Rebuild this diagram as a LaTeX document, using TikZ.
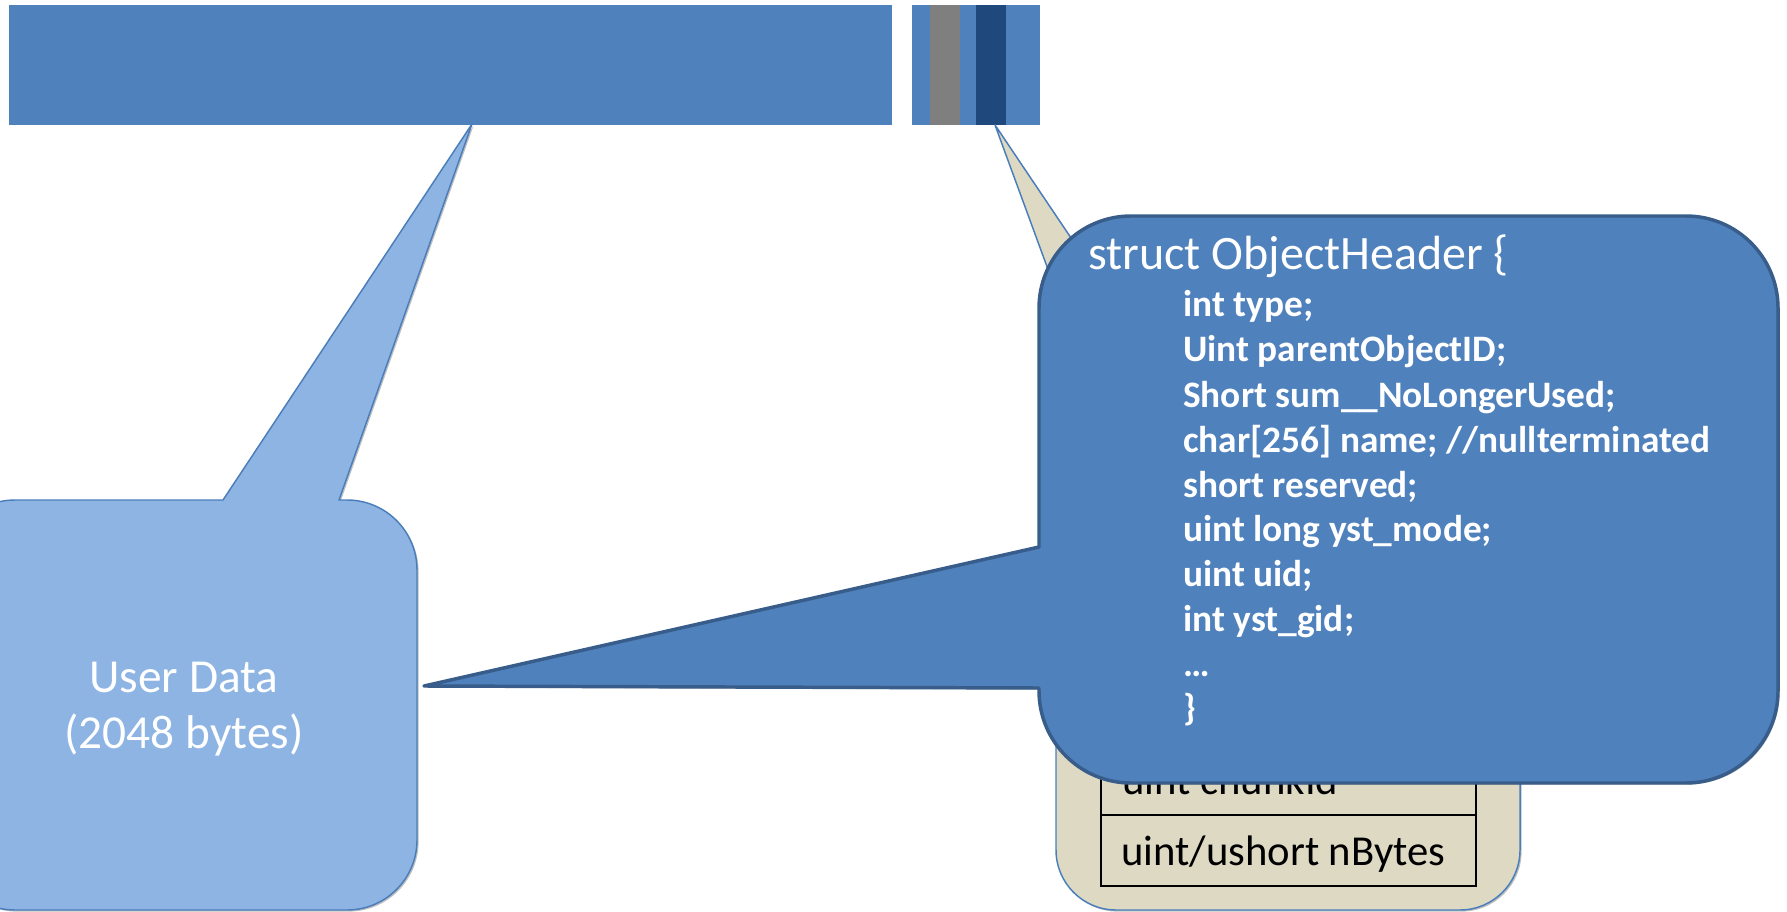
\documentclass[tikz,border=0pt]{standalone}
\usepackage{fontspec}
\setmainfont{Carlito}
\usetikzlibrary{shadows}
\definecolor{barblue}{HTML}{4F81BD}
\definecolor{bargray}{HTML}{7F7F7F}
\definecolor{bardark}{HTML}{1F497D}
\definecolor{udfill}{HTML}{8EB4E3}
\definecolor{udline}{HTML}{4A7EBB}
\definecolor{tanfill}{HTML}{DDD9C3}
\definecolor{hdrfill}{HTML}{4F81BD}
\definecolor{hdrline}{HTML}{385D8A}
\begin{document}
\begin{tikzpicture}[x=0.75pt,y=-0.75pt,
  softshadow/.style={drop shadow={opacity=0.25,fill=black,shadow xshift=1.2pt,shadow yshift=-1.2pt}},
  udshape/.style={fill=udfill,draw=udline,line width=1.1pt,line join=round,softshadow},
  tanshape/.style={fill=tanfill,draw=udline,line width=1.1pt,line join=round,softshadow},
  hdrshape/.style={fill=hdrfill,draw=hdrline,line width=2.6pt,line join=round,softshadow},
  udtext/.style={text=white,inner sep=0pt,anchor=base,font=\fontsize{35.5}{42}\selectfont},
  hdrtitle/.style={text=white,inner sep=0pt,anchor=base west,font=\fontsize{36}{43}\selectfont},
  hdrfield/.style={text=white,inner sep=0pt,anchor=base west,font=\bfseries\fontsize{28}{34}\selectfont},
  cellline/.style={draw=black,line width=1.5pt},
  celltext/.style={text=black,inner sep=0pt,anchor=base west,font=\fontsize{32}{38}\selectfont}]
\useasboundingbox (0,0) rectangle (1787,912);
\clip (0,0) rectangle (1787,912);

% memory layout bars
\fill[barblue] (9,5) rectangle (892,125);
\fill[barblue] (912,5) rectangle (1040,125);
\fill[bargray] (930,5) rectangle (960,125);
\fill[bardark] (976,5) rectangle (1006,125);
\coordinate (datatip) at (472,124);
\coordinate (hdrtip) at (995,125);

% user data callout
\path[udshape] (15,500) -- (223,500) -- (datatip) -- (339,500) -- (347,500)
  .. controls (385.7,500) and (417,531.3) .. (417,570) -- (417,840)
  .. controls (417,878.7) and (385.7,910) .. (347,910) -- (15,910)
  .. controls (-23.7,910) and (-55,878.7) .. (-55,840) -- (-55,570)
  .. controls (-55,531.3) and (-23.7,500) .. (15,500) -- cycle;
\node[udtext] (ud1) at (184,692) {User Data};
\node[udtext] (ud2) at (184,748) {(2048 bytes)};

% chunk header callout
\path[tanshape] (1116,550) -- (1151,550) -- (hdrtip) -- (1281,550) -- (1460,550)
  .. controls (1493.1,550) and (1520,576.9) .. (1520,610) -- (1520,850)
  .. controls (1520,883.1) and (1493.1,910) .. (1460,910) -- (1116,910)
  .. controls (1082.9,910) and (1056,883.1) .. (1056,850) -- (1056,610)
  .. controls (1056,576.9) and (1082.9,550) .. (1116,550) -- cycle;
\draw[cellline] (1101,744) rectangle (1476,886);
\draw[cellline] (1101,815) -- (1476,815);
\node[celltext] (chunk) at (1122,794) {uint chunkId};
\node[celltext] (nbytes) at (1121,865) {uint/ushort nBytes};

% object header callout
\coordinate (hdrpoint) at (424,686);
\path[hdrshape] (1039,308) -- (1039,547) -- (hdrpoint) -- (1039,688) -- (1039,691)
  .. controls (1039,741.8) and (1080.2,783) .. (1131,783) -- (1686,783)
  .. controls (1736.8,783) and (1778,741.8) .. (1778,691) -- (1778,308)
  .. controls (1778,257.2) and (1736.8,216) .. (1686,216) -- (1131,216)
  .. controls (1080.2,216) and (1039,257.2) .. (1039,308) -- cycle;
\node[hdrtitle] (title) at (1088,270) {struct ObjectHeader \{};
\node[hdrfield] (f1) at (1183,317) {int type;};
\node[hdrfield] (f2) at (1183,362) {Uint parentObjectID;};
\node[hdrfield] (f3) at (1183,407) {Short sum\_\_NoLongerUsed;};
\node[hdrfield] (f4) at (1183,452) {char[256] name; //nullterminated};
\node[hdrfield] (f5) at (1183,497) {short reserved;};
\node[hdrfield] (f6) at (1183,541) {uint long yst\_mode;};
\node[hdrfield] (f7) at (1183,586) {uint uid;};
\node[hdrfield] (f8) at (1183,631) {int yst\_gid;};
\node[hdrfield] (f9) at (1183,676) {…};
\node[hdrfield] (f10) at (1183,720) {\}};
\end{tikzpicture}
\end{document}
